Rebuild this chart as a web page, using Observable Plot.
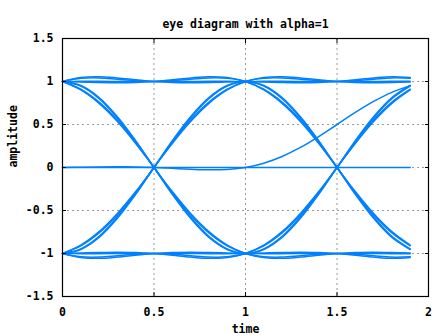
<!DOCTYPE html>
<html>
<head>
<meta charset="utf-8">
<script src="https://cdn.jsdelivr.net/npm/d3@7"></script>
<script src="https://cdn.jsdelivr.net/npm/@observablehq/plot@0.6"></script>
<style>
  html, body { margin: 0; padding: 0; background: #fff; }
  #chart svg { display: block; }
</style>
</head>
<body>
<div id="chart"></div>
<script>
// sample times (symbol periods)
const times = [0, 0.1, 0.2, 0.3, 0.4, 0.5, 0.6, 0.7, 0.8, 0.9, 1.0, 1.1, 1.2, 1.3, 1.4, 1.5, 1.6, 1.7, 1.8, 1.9];

// eye-diagram traces (amplitude at each sample time)
const trace01 = [1, 1.002, 1.002, 1.001, 1, 1, 1, 1.001, 1.002, 1.002, 1, 1.002, 1.002, 1.001, 1, 1, 1, 1.001, 1.002, 1.002];
const trace02 = [1, 0.994, 0.988, 0.985, 0.988, 1, 1.02, 1.041, 1.056, 1.046, 1, 0.91, 0.76, 0.551, 0.292, 0, -0.3, -0.575, -0.8, -0.946];
const trace03 = [1, 0.91, 0.76, 0.551, 0.292, 0, -0.3, -0.575, -0.8, -0.946, -1, -0.946, -0.8, -0.575, -0.3, 0, 0.292, 0.551, 0.76, 0.91];
const trace04 = [1, 0.902, 0.746, 0.535, 0.28, 0, -0.28, -0.535, -0.746, -0.902, -1, -1.038, -1.042, -1.025, -1.008, -1, -1.008, -1.025, -1.042, -1.038];
const trace05 = [-1, -0.946, -0.8, -0.575, -0.3, 0, 0.292, 0.551, 0.76, 0.91, 1, 1.046, 1.056, 1.041, 1.02, 1, 0.988, 0.985, 0.988, 0.994];
const trace06 = [-1, -0.954, -0.814, -0.591, -0.312, 0, 0.312, 0.591, 0.814, 0.954, 1, 0.954, 0.814, 0.591, 0.312, 0, -0.312, -0.591, -0.814, -0.954];
const trace07 = [-1, -1.038, -1.042, -1.025, -1.008, -1, -1.008, -1.025, -1.042, -1.038, -1, -0.902, -0.746, -0.535, -0.28, 0, 0.28, 0.535, 0.746, 0.902];
const trace08 = [-1, -1.046, -1.056, -1.041, -1.02, -1, -0.988, -0.985, -0.988, -0.994, -1, -0.994, -0.988, -0.985, -0.988, -1, -1.02, -1.041, -1.056, -1.046];
const trace09 = [-1, -1.002, -1.002, -1.001, -1, -1, -1, -1.001, -1.002, -1.002, -1, -1.002, -1.002, -1.001, -1, -1, -1, -1.001, -1.002, -1.002];
const trace10 = [-1, -0.994, -0.988, -0.985, -0.988, -1, -1.02, -1.041, -1.056, -1.046, -1, -0.91, -0.76, -0.551, -0.292, 0, 0.3, 0.575, 0.8, 0.946];
const trace11 = [-1, -0.91, -0.76, -0.551, -0.292, 0, 0.3, 0.575, 0.8, 0.946, 1, 0.946, 0.8, 0.575, 0.3, 0, -0.292, -0.551, -0.76, -0.91];
const trace12 = [-1, -0.902, -0.746, -0.535, -0.28, 0, 0.28, 0.535, 0.746, 0.902, 1, 1.038, 1.042, 1.025, 1.008, 1, 1.008, 1.025, 1.042, 1.038];
const trace13 = [1, 0.946, 0.8, 0.575, 0.3, 0, -0.292, -0.551, -0.76, -0.91, -1, -1.046, -1.056, -1.041, -1.02, -1, -0.988, -0.985, -0.988, -0.994];
const trace14 = [1, 0.954, 0.814, 0.591, 0.312, 0, -0.312, -0.591, -0.814, -0.954, -1, -0.954, -0.814, -0.591, -0.312, 0, 0.312, 0.591, 0.814, 0.954];
const trace15 = [1, 1.038, 1.042, 1.025, 1.008, 1, 1.008, 1.025, 1.042, 1.038, 1, 0.902, 0.746, 0.535, 0.28, 0, -0.28, -0.535, -0.746, -0.902];
const trace16 = [1, 1.046, 1.056, 1.041, 1.02, 1, 0.988, 0.985, 0.988, 0.994, 1, 0.994, 0.988, 0.985, 0.988, 1, 1.02, 1.041, 1.056, 1.046];
// start-up transients
const traceStart = [0, 0.004, 0.007, 0.008, 0.006, 0, -0.01, -0.02, -0.027, -0.022, 0, 0.05, 0.128, 0.233, 0.36, 0.5, 0.64, 0.768, 0.874, 0.952];
const traceZero = [0, 0, 0, 0, 0, 0, 0, 0, 0, 0, 0, 0, 0, 0, 0, 0, 0, 0, 0, 0];

const xTicks = [0, 0.5, 1, 1.5, 2];
const yTicks = [-1.5, -1, -0.5, 0, 0.5, 1, 1.5];
const titleText = "eye diagram with alpha=1";
const xLabel = "time";
const yLabel = "amplitude";

const traces = [trace01, trace02, trace03, trace04, trace05, trace06, trace07, trace08,
                trace09, trace10, trace11, trace12, trace13, trace14, trace15, trace16,
                traceZero, traceStart];
const rows = [];
traces.forEach((tr, id) => tr.forEach((v, i) => rows.push({t: times[i], y: v, id})));

const fmt = d => String(d);
const chart = Plot.plot({
  width: 448,
  height: 336,
  marginLeft: 62,
  marginRight: 20,
  marginTop: 38,
  marginBottom: 40,
  style: {fontFamily: "'DejaVu Sans Mono', monospace", fontWeight: "bold", fontSize: "11.5px", color: "#000", background: "#fff"},
  x: {domain: [0, 2]},
  y: {domain: [-1.5, 1.5]},
  marks: [
    Plot.gridX(xTicks, {stroke: "#999", strokeOpacity: 1, strokeDasharray: "2,3"}),
    Plot.gridY(yTicks, {stroke: "#999", strokeOpacity: 1, strokeDasharray: "2,3"}),
    Plot.line(rows, {x: "t", y: "y", z: "id", stroke: "#0080ff", strokeWidth: 1.5, curve: "catmull-rom"}),
    Plot.frame({stroke: "#000", strokeWidth: 1.2}),
    Plot.axisX(xTicks, {anchor: "bottom", tickSize: 0, tickPadding: 11, tickFormat: fmt, label: null, fill: "#000"}),
    Plot.axisY(yTicks, {anchor: "left", tickSize: 0, tickPadding: 9, tickFormat: fmt, label: null, fill: "#000"}),
    Plot.axisY(yTicks, {anchor: "left", tickSize: -4, tickFormat: () => "", label: null}),
    Plot.axisY(yTicks, {anchor: "right", tickSize: -4, tickFormat: () => "", label: null}),
    Plot.axisX(xTicks, {anchor: "bottom", tickSize: -4, tickFormat: () => "", label: null}),
    Plot.axisX(xTicks, {anchor: "top", tickSize: -4, tickFormat: () => "", label: null}),
    Plot.text([titleText], {frameAnchor: "top", dy: -19, fill: "#000", fontSize: 11.5, fontWeight: "bold"}),
    Plot.text([xLabel], {frameAnchor: "bottom", dy: 36, fill: "#000", fontSize: 11.5, fontWeight: "bold"}),
    Plot.text([yLabel], {frameAnchor: "left", dx: -49, rotate: -90, fill: "#000", fontSize: 11.5, fontWeight: "bold"})
  ]
});
document.getElementById("chart").appendChild(chart);
</script>
</body>
</html>
